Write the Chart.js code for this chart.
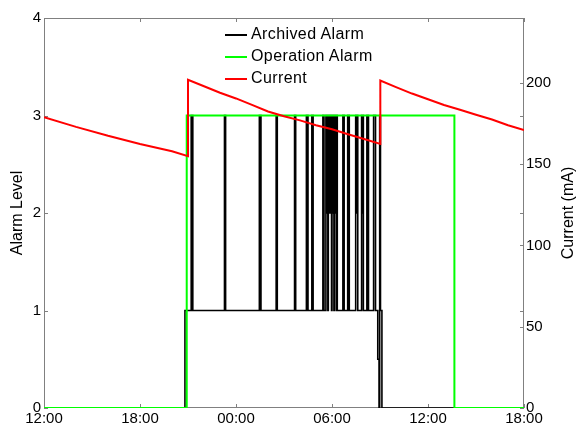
<!DOCTYPE html>
<html>
<head>
<meta charset="utf-8">
<title>Alarm Level / Current</title>
<script src="https://cdn.jsdelivr.net/npm/chart.js@4.4.1/dist/chart.umd.min.js"></script>
<style>
    html, body { margin: 0; padding: 0; background: #fff; }
    #wrap { position: relative; width: 580px; height: 429px; }
    #legend {
        position: absolute; left: 225px; top: 23px;
        font: 16px "Liberation Sans", Arial, sans-serif;
        letter-spacing: 0.4px; color: #000;
    }
    .row { height: 22px; line-height: 22px; white-space: nowrap; }
    .swatch { display: inline-block; width: 22px; height: 2px; vertical-align: middle; margin-right: 4px; }
</style>
</head>
<body>
<div id="wrap">
    <canvas id="alarmChart" width="580" height="429"></canvas>
    <div id="legend"></div>
</div>
<script>
// time is in hours counted from 12:00 on the first day
const timeTicks = [0, 6, 12, 18, 24, 30];
const timeLabels = ['12:00', '18:00', '00:00', '06:00', '12:00', '18:00'];
const levelTicks = [0, 1, 2, 3, 4];
const currentTicks = [0, 50, 100, 150, 200];

// Archived alarm: each entry is the time the level changes and the new level
const archivedTime = [
    0, 8.81,
    9.20, 9.24, 9.27, 9.30, 11.28, 11.35, 13.46, 13.50, 13.53, 13.56,
    14.51, 14.58, 15.66, 15.73,
    16.40, 16.44, 16.47, 16.50, 16.74, 16.82, 17.43, 17.50,
    17.62, 17.66, 17.70, 17.74, 17.77, 17.81, 17.85, 17.89, 17.93, 17.97,
    18.00, 18.04, 18.08, 18.12, 18.15, 18.19, 18.23, 18.27, 18.29, 18.33,
    18.68, 18.76, 18.98, 19.08, 19.48, 19.53, 19.57, 19.61,
    19.85, 19.90, 19.93, 19.96, 20.18, 20.28, 20.60, 20.72,
    20.86, 20.94, 20.98, 21.03, 21.12, 30
];
const archivedLevel = [
    0, 1,
    3, 2, 3, 1, 3, 1, 3, 2, 3, 1,
    3, 1, 3, 1,
    3, 2, 3, 1, 3, 1, 3, 1,
    3, 2, 3, 1, 3, 2, 3, 2, 3, 1,
    3, 2, 3, 1, 3, 2, 3, 1, 3, 1,
    3, 1, 3, 1, 3, 2, 3, 1,
    3, 2, 3, 1, 3, 1, 3, 1,
    0.5, 0, 3, 1, 0, 0
];

// Operation alarm, same form
const operationTime = [0, 8.92, 25.65, 30];
const operationLevel = [0, 3, 0, 0];

// Beam current (mA)
const currentTime = [
    0, 2, 4, 6, 8, 9.0,
    9.0, 10, 11, 12, 13, 14, 15, 16, 17, 18, 19, 20, 21.02,
    21.02, 22, 23, 24, 25, 26, 27, 28, 29, 30
];
const currentValue = [
    179, 173, 167.5, 162.5, 158, 155,
    202, 198, 194, 190.5, 186.5, 182.5, 179.5, 177, 174, 171.5, 168.5, 165.5, 162.5,
    201.5, 197.5, 193.5, 190, 186.5, 183.5, 180.5, 177.5, 174, 171
];

const seriesNames = ['Archived Alarm', 'Operation Alarm', 'Current'];
const seriesColors = ['#000000', '#00ff00', '#ff0000'];
const leftTitle = 'Alarm Level';
const rightTitle = 'Current (mA)';

const FONT = '"Liberation Sans", Arial, sans-serif';
const tickFont = { family: FONT, size: 15 };

function toPoints(xs, ys) {
    return xs.map((x, i) => ({ x: x, y: ys[i] }));
}

// box round the plot with inward tick marks, plus the right axis title
const axesBox = {
    id: 'axesBox',
    beforeDatasetsDraw(chart) {
        const { ctx, chartArea: a, scales } = chart;
        const len = 4;
        ctx.save();
        ctx.strokeStyle = '#808080';
        ctx.lineWidth = 1;
        ctx.beginPath();
        ctx.rect(a.left + 0.5, a.top + 0.5, a.right - a.left - 1, a.bottom - a.top - 1);
        scales.x.ticks.forEach(t => {
            const px = Math.round(scales.x.getPixelForValue(t.value)) + 0.5;
            ctx.moveTo(px, a.bottom); ctx.lineTo(px, a.bottom - len);
            ctx.moveTo(px, a.top); ctx.lineTo(px, a.top + len);
        });
        scales.y.ticks.forEach(t => {
            const py = Math.round(scales.y.getPixelForValue(t.value)) + 0.5;
            ctx.moveTo(a.left, py); ctx.lineTo(a.left + len, py);
            ctx.moveTo(a.right, py); ctx.lineTo(a.right - len, py);
        });
        scales.y2.ticks.forEach(t => {
            const py = Math.round(scales.y2.getPixelForValue(t.value)) + 0.5;
            ctx.moveTo(a.right, py); ctx.lineTo(a.right - len, py);
        });
        ctx.stroke();
        ctx.restore();
    },
    afterDraw(chart) {
        const { ctx, chartArea: a } = chart;
        ctx.save();
        ctx.translate(569, (a.top + a.bottom) / 2);
        ctx.rotate(-Math.PI / 2);
        ctx.font = '16px ' + FONT;
        ctx.fillStyle = '#000';
        ctx.textAlign = 'center';
        ctx.textBaseline = 'middle';
        ctx.fillText(rightTitle, 0, 0);
        ctx.restore();
    }
};

const noGrid = { display: false, drawTicks: false };

const chart = new Chart(document.getElementById('alarmChart'), {
    type: 'line',
    data: {
        datasets: [
            {
                label: seriesNames[0],
                data: toPoints(archivedTime, archivedLevel),
                yAxisID: 'y',
                borderColor: seriesColors[0],
                borderWidth: 1.6,
                stepped: true,
                order: 3
            },
            {
                label: seriesNames[1],
                data: toPoints(operationTime, operationLevel),
                yAxisID: 'y',
                borderColor: seriesColors[1],
                borderWidth: 2,
                stepped: true,
                order: 2
            },
            {
                label: seriesNames[2],
                data: toPoints(currentTime, currentValue),
                yAxisID: 'y2',
                borderColor: seriesColors[2],
                borderWidth: 2,
                order: 1
            }
        ]
    },
    options: {
        responsive: false,
        animation: false,
        elements: {
            point: { radius: 0 },
            line: { tension: 0, fill: false }
        },
        layout: { padding: { top: 18, left: 0, right: 0, bottom: 0 } },
        plugins: {
            legend: { display: false },
            tooltip: { enabled: false }
        },
        scales: {
            x: {
                type: 'linear',
                min: 0,
                max: 30,
                grid: noGrid,
                border: { display: false },
                afterBuildTicks: s => { s.ticks = timeTicks.map(v => ({ value: v })); },
                ticks: {
                    callback: (v, i) => timeLabels[i],
                    font: tickFont,
                    color: '#000',
                    padding: 2,
                    maxRotation: 0,
                    autoSkip: false
                },
                afterFit: s => { s.height = 21; }
            },
            y: {
                position: 'left',
                min: 0,
                max: 4,
                grid: noGrid,
                border: { display: false },
                afterBuildTicks: s => { s.ticks = levelTicks.map(v => ({ value: v })); },
                ticks: { font: tickFont, color: '#000', padding: 3 },
                title: {
                    display: true,
                    text: leftTitle,
                    font: { family: FONT, size: 16 },
                    color: '#000',
                    padding: { top: 8, bottom: 0 }
                },
                afterFit: s => { s.width = 44; }
            },
            y2: {
                position: 'right',
                min: 0,
                max: 240,
                grid: noGrid,
                border: { display: false },
                afterBuildTicks: s => { s.ticks = currentTicks.map(v => ({ value: v })); },
                ticks: { font: tickFont, color: '#000', padding: 2 },
                afterFit: s => { s.width = 56; }
            }
        }
    },
    plugins: [axesBox]
});

// legend inside the plot, built from the datasets
const legendBox = document.getElementById('legend');
chart.data.datasets.forEach(ds => {
    const row = document.createElement('div');
    row.className = 'row';
    const sw = document.createElement('span');
    sw.className = 'swatch';
    sw.style.background = ds.borderColor;
    row.appendChild(sw);
    row.appendChild(document.createTextNode(ds.label));
    legendBox.appendChild(row);
});
</script>
</body>
</html>
